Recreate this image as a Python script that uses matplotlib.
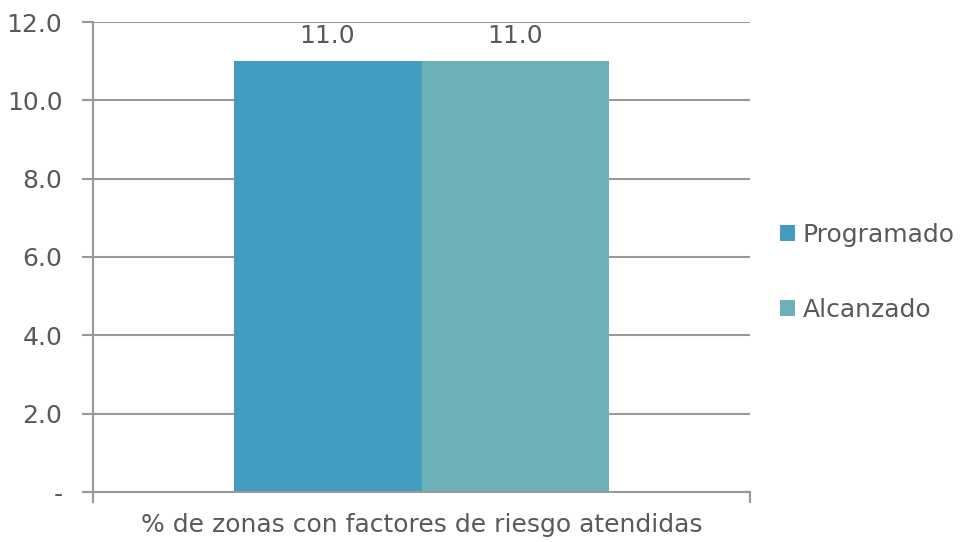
import matplotlib.pyplot as plt
from matplotlib.ticker import FixedLocator

plt.rcParams['font.family'] = ['DejaVu Sans']

# datos
categorias = ['% de zonas con factores de riesgo atendidas']
series = ['Programado', 'Alcanzado']
valores = [[11.0], [11.0]]
colores = ['#429CC0', '#6CB0B8']
yticks = [0, 2, 4, 6, 8, 10, 12]
ytick_labels = ['-', '2.0', '4.0', '6.0', '8.0', '10.0', '12.0']

gris = '#595959'
linea = '#999999'

fig = plt.figure(figsize=(9.67, 5.42), dpi=100)
ax = fig.add_axes([93 / 967, 50 / 542, 657 / 967, 470 / 542])

ancho = 0.286
x = list(range(len(categorias)))
for i, (nombre, vals) in enumerate(zip(series, valores)):
    pos = [xi + (i - 0.5) * ancho for xi in x]
    barras = ax.bar(pos, vals, width=ancho, color=colores[i], label=nombre, zorder=2)
    for b, v in zip(barras, vals):
        ax.text(b.get_x() + b.get_width() / 2, v + 0.33, f'{v:.1f}',
                ha='center', va='bottom', fontsize=18, color=gris)

ax.set_xlim(-0.5, 0.5)
ax.set_ylim(0, 12)
ax.set_yticks(yticks)
ax.set_yticklabels(ytick_labels)
ax.set_xticks(x)
ax.set_xticklabels(categorias)
ax.xaxis.set_minor_locator(FixedLocator([-0.5, 0.5]))

ax.grid(axis='y', color=linea, linewidth=1.5, zorder=0)
for s in ['top', 'right']:
    ax.spines[s].set_visible(False)
for s in ['left', 'bottom']:
    ax.spines[s].set_color(linea)
    ax.spines[s].set_linewidth(1.5)

ax.tick_params(axis='y', length=8, width=1.5, color=linea, labelsize=18,
               labelcolor=gris, pad=14)
ax.tick_params(axis='x', which='major', length=0, labelsize=18,
               labelcolor=gris, pad=15)
ax.tick_params(axis='x', which='minor', length=8, width=1.5, color=linea)

leg = ax.legend(loc='center left', bbox_to_anchor=(1.012, 0.467), frameon=False,
                fontsize=18, labelcolor=gris, handlelength=0.6, handleheight=0.6,
                handletextpad=0.3, labelspacing=2.05)

plt.savefig('out.png', dpi=100)
